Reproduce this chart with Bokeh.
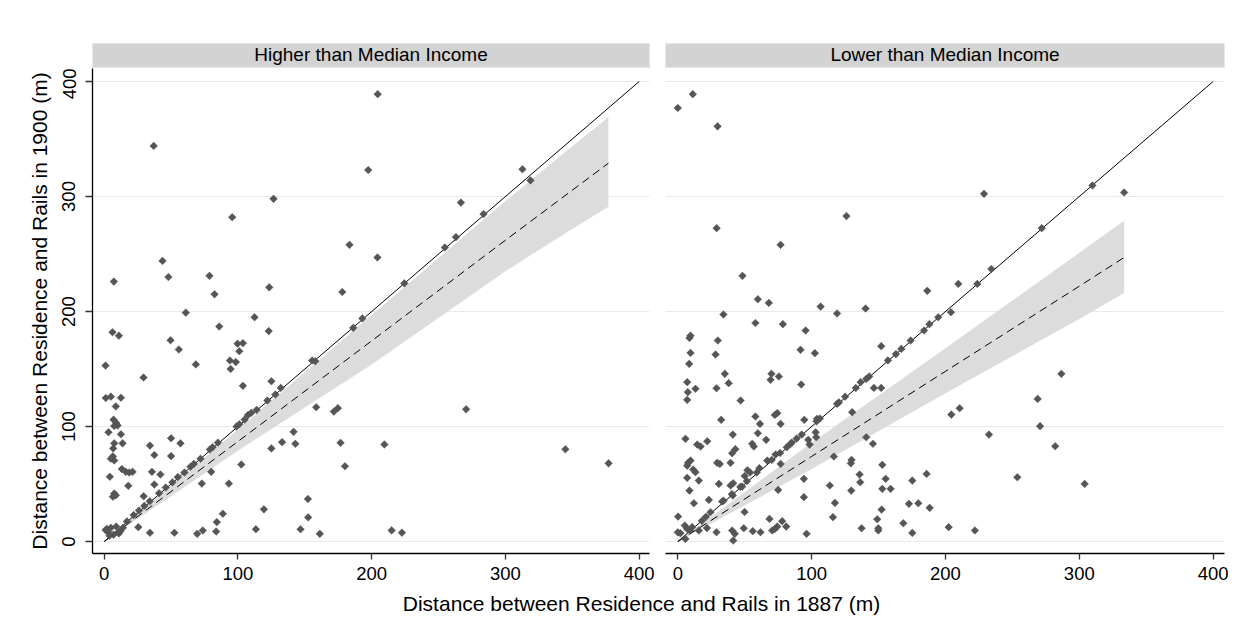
from bokeh.plotting import figure
from bokeh.layouts import column, row
from bokeh.models import Label, FixedTicker, Range1d
from bokeh.embed import file_html
from bokeh.resources import INLINE
import math

FONT = "Liberation Sans"

# ---------------- data ----------------
panel_titles = ["Higher than Median Income", "Lower than Median Income"]
x_title = "Distance between Residence and Rails in 1887 (m)"
y_title = "Distance between Residence and Rails in 1900 (m)"
tick_values = [0, 100, 200, 300, 400]
tick_labels = ["0", "100", "200", "300", "400"]

# Higher than median income: (distance 1887, distance 1900)
hi_x = [7.2, 37, 43.6, 48, 78.7, 82.5, 95.7, 123.4, 126.6, 178, 183.4, 197.4, 204.5, 204.3,
        1, 61, 112.4, 6.2, 11, 86, 123, 49.6, 55.8, 99.7, 103.7, 101, 68.5, 94, 98.4, 94.5,
        29.4, 125, 103.7, 155.5, 157.8, 186.2, 193, 224.4, 254.7, 263, 266.7, 283.6, 312.7,
        318.7, 132, 128,
        1.2, 5, 12.5, 8.7, 7, 9, 7.5, 10, 3.2, 12.5, 7.5, 13.7, 6.7, 5, 6.5, 7.5, 4.2, 7.5,
        8.7, 6.5, 13.2, 16.2, 18.7, 21.2, 18,
        1, 3, 5, 7, 9, 11, 12, 4, 2, 14,
        17, 22, 26, 30, 34, 41, 46, 51, 55, 60, 64.5, 67, 72, 79, 81, 85, 99, 101, 105, 107.5,
        110, 114, 122,
        34.2, 37.5, 50, 57, 50, 35.7, 42, 37.5, 29.5, 25.5, 34.2, 52.5, 69.5, 73.7, 83.7, 84.2,
        88.7, 73, 80, 93.2, 102.5,
        119.4, 113.4, 146.8, 152.3, 152.5, 161.2, 125, 133, 141.6, 142.9, 158.5, 171.7, 174.7,
        176.7, 180, 270.6, 209.5, 344.8, 377.1, 214.9, 222.6]
hi_y = [226, 344, 244, 230, 231, 215, 282, 221, 298, 217, 258, 323, 389, 247,
        153, 199, 195, 182, 179, 187, 183, 175, 167, 172, 172.5, 165.5, 154, 157.4, 156, 150,
        142.6, 139.4, 135.4, 157.4, 156.8, 185.8, 194, 224.5, 255.7, 264.7, 294.7, 284.7, 323.7,
        314, 133.6, 127.8,
        124.8, 126, 125, 117.5, 106, 103, 100.5, 101, 95, 93.3, 85.4, 85.4, 81, 72, 74, 70.5,
        56.3, 41.7, 40.2, 39, 63, 60.6, 60, 60.6, 48.4,
        10, 8, 12, 6, 13, 7, 9, 5, 11, 12,
        17.5, 23, 27, 31, 35, 42, 47, 51.5, 56, 60, 65, 67.5, 72, 80, 82, 86, 100, 102, 106, 110,
        112, 114.5, 122.6,
        83.4, 75.2, 89.8, 85.4, 74.3, 60.6, 58.3, 49.6, 39.4, 12.5, 7.6, 7.6, 6.7, 9.6, 8.7, 16.9,
        24.2, 50.4, 60.6, 50.4, 67,
        28, 10.7, 10.7, 37, 21, 6.7, 81, 86.4, 95.4, 85, 116.8, 113, 116,
        85.8, 65.5, 115, 84.4, 80.2, 68, 9.7, 7.7]

# Lower than median income
lo_x = [0, 11.2, 29.7, 29, 126, 76.8, 48.3, 59.8, 68, 34.1, 106.7, 119, 140.3, 186.4, 204.1,
        58, 78.5, 95.5, 209.6, 228.8, 309.8, 333.5, 271.9, 234.3, 223.8, 204.4, 210.6, 232.5,
        268.9, 270.7, 286.6, 282, 253.7, 304, 202.4, 222,
        9.5, 8.7, 29.9, 9.5, 28.2, 8.5, 91.7, 102.4, 152, 167, 174, 184, 188, 194.6, 35.1, 38,
        7, 7.5, 7, 13.2, 28.9, 46.9, 70, 75.5, 69.3, 92.2, 119, 136.6, 140.8, 146.5, 152, 130.3,
        32.4, 58, 61.4, 72.5, 74.3, 76.8, 104, 41.1, 59.8, 66, 55.6, 56.8, 5.7, 14.5, 17, 22, 43,
        40.6, 97.5, 98.5, 103, 103.4, 140.8, 145.8, 73, 76.8, 29.4, 31.4, 39.4, 7.7, 7, 9.5, 11.5,
        13.2, 7, 15.7, 8.7, 12, 23.2, 30.7, 39.4, 41.4, 33.1, 41.1, 48.1, 94.2, 94.2, 75, 113.6,
        129.8, 129.3, 116.6, 135.8, 136.3, 129.6, 152.8, 155.3, 152.8, 159, 175.2, 185.9, 117.4,
        115.9, 152.3, 149, 149.8, 149.8, 137.3, 168.5, 172.7, 179.7, 188.2, 175.2, 96.2, 78, 81,
        68.5, 70.5, 72.5, 74.3, 56, 61.8, 49.3, 40.6, 41.4, 42.6, 28.9, 15.7, 0.2, 0, 2, 5.2, 7,
        9, 10.7, 5.7, 49.9, 94.5, 21.8, 52, 54, 50, 66.8, 61,
        18, 21, 24.4, 34.2, 40.4, 46.7, 51.6, 59, 70.2, 76.4, 81.4, 83.9, 85.1, 88.8, 92.6,
        103.7, 106.2, 120.4, 125, 133, 143, 157, 163]
lo_y = [377, 389, 361, 272.5, 283, 258, 231, 210.7, 207.5, 197.4, 204.3, 198.3, 202.6, 218, 199.4,
        190, 189, 183.5, 224, 302.3, 309.6, 303.5, 272.5, 237, 224, 110.4, 115.9, 93,
        124, 100.3, 145.8, 82.9, 55.9, 50.1, 12.5, 9.6,
        179, 177, 174.8, 164, 162.6, 154.5, 166.7, 163.8, 169.9, 167.5, 174.8, 183.5, 189, 195,
        145.8, 137.7, 138.6, 129.9, 123.2, 132.8, 133.3, 122.6, 145.8, 143.5, 140.6, 136.5, 119.7,
        138.6, 141.4, 133.6, 133.6, 112.5, 105.8, 108.7, 102.3, 110, 111.6, 102.3, 106.7, 93, 94.2,
        88.4, 85, 82.6, 89.3, 84.3, 82.6, 87.2, 80.3, 76.8, 88.4, 84.3, 95, 90.7, 90.7, 85, 75.7,
        67.5, 68.4, 67.5, 68.4, 68.4, 66, 70.4, 62.6, 60.3, 55.4, 53, 44.3, 33.3, 36.2, 50.1, 48.7,
        50.7, 34.8, 40, 47.8, 54.5, 38.6, 44.9, 48.7, 71, 68, 73.9, 58.3, 51.6, 44.3, 66.7, 54.5,
        45.8, 45.8, 53, 58.8, 33.6, 21.2, 27.8, 19.4, 11.6, 9.6, 11.6, 15.9, 32.8, 33.3, 29.3, 7.5,
        6.7, 17.7, 13, 19.7, 9.6, 11, 13, 9, 8.1, 11.6, 9.6, 0.9, 6.7, 8.1, 9.6, 21.7, 8, 7.2,
        13.9, 11, 9.6, 12.5, 2.3, 25.7, 105.8, 11.7, 62, 60, 57, 70.4, 63.8,
        18, 21.5, 25.5, 35.5, 41.2, 47.5, 52.5, 60, 71, 77, 82, 84.5, 86, 89.5, 93,
        104.5, 107, 121, 126, 133.5, 143.5, 157.5, 163]

# 45-degree reference line
diag = [0, 400]

# fitted line (dashed) and its confidence band
hi_band_x = [0, 100, 200, 300, 346, 377]
hi_fit = [0, 87, 174.5, 262, 302, 329]
hi_upper = [0, 97.5, 197, 296, 340, 369]
hi_lower = [0, 79, 154, 235, 269, 291]

lo_band_x = [0, 100, 200, 300, 333.5]
lo_fit = [0, 74, 148, 222, 247]
lo_upper = [0, 86, 168, 251, 279]
lo_lower = [0, 63, 129, 193.5, 216]

# ---------------- style ----------------
MARKER = "#555555"
BAND = "#dcdcdc"
GRID = "#e9e9e9"
STRIP = "#d3d3d3"


def make_strip(title, width, left, right):
    s = figure(width=width, height=68, x_range=Range1d(0, 1), y_range=Range1d(0, 1),
               min_border_left=left, min_border_right=right, min_border_top=43,
               min_border_bottom=0, output_backend="svg", toolbar_location=None)
    s.axis.visible = False
    s.grid.visible = False
    s.background_fill_color = STRIP
    s.outline_line_color = "#e2e9ee"
    s.border_fill_color = "white"
    s.add_layout(Label(x=0.5, y=0.56, text=title, text_align="center",
                       text_baseline="middle", text_font=FONT,
                       text_font_size="19px", text_color="black"))
    return s


def make_panel(xs, ys, bx, bfit, blo, bhi, width, left, right, xr, show_y):
    p = figure(width=width, height=522, x_range=Range1d(*xr), y_range=Range1d(-10.4, 411.3),
               min_border_left=left, min_border_right=right, min_border_top=0,
               min_border_bottom=37, output_backend="svg", toolbar_location=None)
    p.outline_line_color = None
    p.background_fill_color = "white"
    p.border_fill_color = "white"
    p.xgrid.visible = False
    p.ygrid.ticker = FixedTicker(ticks=tick_values)
    p.ygrid.grid_line_color = GRID
    p.ygrid.grid_line_width = 1

    p.xaxis.ticker = FixedTicker(ticks=tick_values)
    p.xaxis.major_label_overrides = {v: l for v, l in zip(tick_values, tick_labels)}
    p.xaxis.axis_line_color = "black"
    p.xaxis.axis_line_width = 1.3
    p.xaxis.major_tick_line_color = "#333333"
    p.xaxis.major_tick_line_width = 1.3
    p.xaxis.major_tick_in = 0
    p.xaxis.major_tick_out = 6
    p.xaxis.minor_tick_line_color = None
    p.xaxis.major_label_text_font = FONT
    p.xaxis.major_label_text_font_size = "18.5px"
    p.xaxis.major_label_text_color = "black"
    p.xaxis.major_label_standoff = 7

    if show_y:
        p.yaxis.ticker = FixedTicker(ticks=tick_values)
        p.yaxis.major_label_overrides = {v: l for v, l in zip(tick_values, tick_labels)}
        p.yaxis.major_label_orientation = "vertical"
        p.yaxis.axis_line_color = "black"
        p.yaxis.axis_line_width = 1.3
        p.yaxis.major_tick_line_color = "#333333"
        p.yaxis.major_tick_line_width = 1.3
        p.yaxis.major_tick_in = 0
        p.yaxis.major_tick_out = 7
        p.yaxis.minor_tick_line_color = None
        p.yaxis.major_label_text_font = FONT
        p.yaxis.major_label_text_font_size = "18.5px"
        p.yaxis.major_label_text_color = "black"
        p.yaxis.major_label_standoff = 10
        p.yaxis.axis_label = y_title
        p.yaxis.axis_label_text_font = FONT
        p.yaxis.axis_label_text_font_size = "21px"
        p.yaxis.axis_label_text_font_style = "normal"
        p.yaxis.axis_label_text_color = "black"
        p.yaxis.axis_label_standoff = 9
    else:
        p.yaxis.visible = False

    p.varea(x=bx, y1=blo, y2=bhi, fill_color=BAND, fill_alpha=1.0)
    p.line(x=diag, y=diag, line_color="black", line_width=1)
    p.line(x=bx, y=bfit, line_color="black", line_width=1, line_dash="8 5")
    p.scatter(x=xs, y=ys, marker="square", size=5.4, angle=math.pi / 4,
              fill_color=MARKER, line_color=MARKER, line_width=0.5)
    return p


LEFT_W, RIGHT_W = 657, 587
strip_l = make_strip(panel_titles[0], LEFT_W, 92, 8)
strip_r = make_strip(panel_titles[1], RIGHT_W, 8, 20)
panel_l = make_panel(hi_x, hi_y, hi_band_x, hi_fit, hi_lower, hi_upper, LEFT_W, 92, 8,
                     (-8.75, 407.7), True)
panel_r = make_panel(lo_x, lo_y, lo_band_x, lo_fit, lo_lower, lo_upper, RIGHT_W, 8, 20,
                     (-9.2, 408.5), False)

xt = figure(width=1244, height=41, x_range=Range1d(0, 1244), y_range=Range1d(0, 41),
            min_border=0, output_backend="svg", toolbar_location=None)
xt.axis.visible = False
xt.grid.visible = False
xt.outline_line_color = None
xt.add_layout(Label(x=641, y=28, text=x_title, text_align="center", text_baseline="middle",
                    text_font=FONT, text_font_size="21px", text_color="black"))

layout = column(row(strip_l, strip_r), row(panel_l, panel_r), xt)

with open("out.html", "w") as f:
    f.write(file_html(layout, INLINE))
